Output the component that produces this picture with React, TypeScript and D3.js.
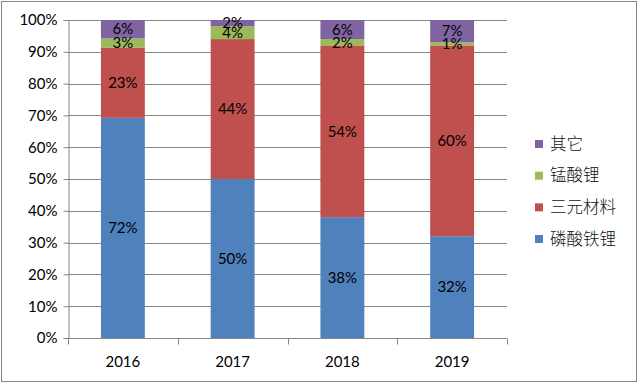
import { useEffect, useRef } from 'react';
import * as d3 from 'd3';

const years = ['2016', '2017', '2018', '2019'];
const lfp = [72, 50, 38, 32]; // 磷酸铁锂
const ncm = [23, 44, 54, 60]; // 三元材料
const lmo = [3, 4, 2, 1]; // 锰酸锂
const other = [6, 2, 6, 7]; // 其它

const seriesNames = ['磷酸铁锂', '三元材料', '锰酸锂', '其它'];
const seriesValues = [lfp, ncm, lmo, other];
const colors = ['#4F81BD', '#C0504D', '#9BBB59', '#8064A2'];
const yTicks = [0, 0.1, 0.2, 0.3, 0.4, 0.5, 0.6, 0.7, 0.8, 0.9, 1];

export default function App() {
  const svgRef = useRef<SVGSVGElement>(null);

  useEffect(() => {
    if (!svgRef.current) return;
    const plot = { left: 68, right: 507, top: 20, bottom: 338 };

    const svg = d3.select(svgRef.current);
    svg.selectAll('*').remove();

    // outer frame
    svg.append('rect')
      .attr('x', 1.5).attr('y', 1.5)
      .attr('width', 635).attr('height', 380)
      .attr('fill', '#fff')
      .attr('stroke', '#868686')
      .attr('stroke-width', 1);

    const x = d3.scaleBand().domain(years).range([plot.left, plot.right]).paddingInner(0.6).paddingOuter(0.3);
    const y = d3.scaleLinear().domain([0, 1]).range([plot.bottom, plot.top]);

    // table for the stack
    const rows = years.map((yr, i) => {
      const r: any = { year: yr };
      seriesNames.forEach((n, k) => { r[n] = seriesValues[k][i]; });
      return r;
    });
    const stacked = d3.stack().keys(seriesNames).offset(d3.stackOffsetExpand)(rows);

    // gridlines
    svg.append('g').selectAll('line').data(yTicks.slice(1)).enter().append('line')
      .attr('x1', plot.left).attr('x2', plot.right)
      .attr('y1', d => Math.round(y(d)) + 0.5).attr('y2', d => Math.round(y(d)) + 0.5)
      .attr('stroke', '#868686').attr('stroke-width', 1);

    // y axis
    const yAxis = svg.append('g').attr('transform', `translate(${plot.left + 0.5},0)`)
      .call(d3.axisLeft(y).tickValues(yTicks).tickFormat(d3.format('.0%')).tickSizeOuter(0).tickSize(5).tickPadding(6));
    yAxis.select('.domain').attr('stroke', '#868686');
    yAxis.selectAll('.tick line').attr('stroke', '#868686');
    yAxis.selectAll('.tick text').attr('fill', '#000').style('font-family', 'Lato, "Liberation Sans", sans-serif').style('font-size', '15px');

    // bars
    const layer = svg.append('g').selectAll('g').data(stacked).enter().append('g')
      .attr('fill', (_, i) => colors[i]);
    layer.selectAll('rect').data(d => d).enter().append('rect')
      .attr('x', (d: any) => x(d.data.year)!)
      .attr('width', x.bandwidth())
      .attr('y', d => y(d[1]))
      .attr('height', d => y(d[0]) - y(d[1]));

    // value labels
    stacked.forEach((s, k) => {
      svg.append('g').selectAll('text').data(s).enter().append('text')
        .attr('x', (d: any) => x(d.data.year)! + x.bandwidth() / 2)
        .attr('y', d => y((d[0] + d[1]) / 2))
        .attr('dy', '0.35em')
        .attr('text-anchor', 'middle')
        .attr('fill', '#000')
        .style('font-family', 'Lato, "Liberation Sans", sans-serif')
        .style('font-size', '15px')
        .text((_, i) => `${seriesValues[k][i]}%`);
    });

    // x axis
    const xAxisScale = d3.scaleLinear().domain([0, years.length]).range([plot.left, plot.right]);
    const xAxis = svg.append('g').attr('transform', `translate(0,${plot.bottom + 0.5})`);
    xAxis.append('line').attr('x1', plot.left).attr('x2', plot.right).attr('stroke', '#868686');
    xAxis.selectAll('.tk').data(d3.range(years.length + 1)).enter().append('line')
      .attr('x1', d => Math.round(xAxisScale(d)) + 0.5).attr('x2', d => Math.round(xAxisScale(d)) + 0.5)
      .attr('y1', 0).attr('y2', 6).attr('stroke', '#868686');
    xAxis.selectAll('text').data(years).enter().append('text')
      .attr('x', d => x(d)! + x.bandwidth() / 2)
      .attr('y', 23)
      .attr('dy', '0.35em')
      .attr('text-anchor', 'middle')
      .attr('fill', '#000')
      .style('font-family', 'Lato, "Liberation Sans", sans-serif')
      .style('font-size', '15px')
      .text(d => d);

    // legend (reverse order)
    const legendY = d3.scalePoint().domain([...seriesNames].reverse()).range([144, 239]);
    const leg = svg.append('g').selectAll('g').data([...seriesNames].reverse()).enter().append('g')
      .attr('transform', d => `translate(535,${legendY(d)})`);
    leg.append('rect').attr('x', 0).attr('y', -4).attr('width', 8).attr('height', 8)
      .attr('fill', d => colors[seriesNames.indexOf(d)]);
    leg.append('text').attr('x', 15).attr('dy', '0.35em')
      .attr('fill', '#111')
      .style('font-family', '"Noto Sans CJK SC", sans-serif')
      .style('font-size', '16.5px')
      .style('font-weight', 300)
      .text(d => d);
  }, []);

  return (
    <svg ref={svgRef} width={640} height={384} viewBox="0 0 640 384"
      style={{ position: 'absolute', left: 0, top: 0, display: 'block' }} />
  );
}
